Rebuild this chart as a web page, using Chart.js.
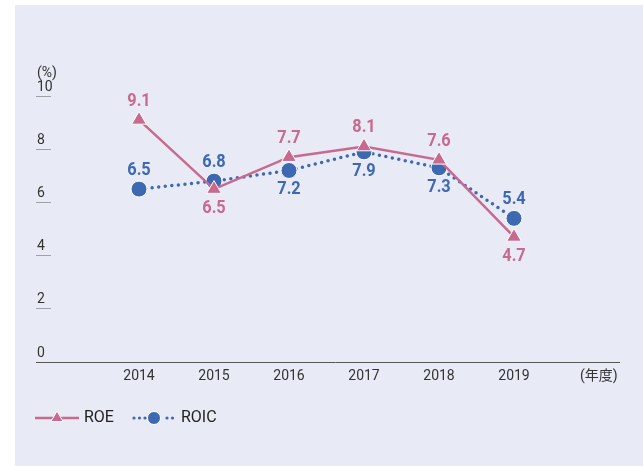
<!DOCTYPE html>
<html>
<head>
<meta charset="utf-8">
<script src="https://cdn.jsdelivr.net/npm/chart.js@4/dist/chart.umd.min.js"></script>
<style>
  html, body { margin: 0; padding: 0; background: #ffffff; }
  #panel { position: absolute; left: 15px; top: 5px; width: 628px; height: 461px; background: #e8eaf6; }
  #wrap { position: absolute; left: 0; top: 0; width: 643px; height: 468px; }
</style>
</head>
<body>
<div id="panel"></div>
<div id="wrap"><canvas id="c" width="643" height="468"></canvas></div>
<script>
// ---- data ----
const categories = ['2014', '2015', '2016', '2017', '2018', '2019'];
const xUnitLabel = '(年度)';
const yUnitLabel = '(%)';
const roeValues = [9.1, 6.5, 7.7, 8.1, 7.6, 4.7];
const roicValues = [6.5, 6.8, 7.2, 7.9, 7.3, 5.4];
const roeLabelSide = ['above', 'below', 'above', 'above', 'above', 'below'];
const roicLabelSide = ['above', 'above', 'below', 'below', 'below', 'above'];
const seriesNames = ['ROE', 'ROIC'];

const ROE_COLOR = '#c8698f';
const ROIC_COLOR = '#3d69b2';
const TEXT_FONT = 'Roboto, "Noto Sans CJK JP", sans-serif';

function makeIcon(kind) {
  const cv = document.createElement('canvas');
  cv.width = 44; cv.height = 16;
  const g = cv.getContext('2d');
  const cy = 8;
  if (kind === 'roe') {
    g.strokeStyle = ROE_COLOR; g.lineWidth = 2.5;
    g.beginPath(); g.moveTo(0, cy); g.lineTo(44, cy); g.stroke();
    const r = 7;
    g.beginPath();
    g.moveTo(22, cy - r);
    g.lineTo(22 + r * Math.sin(Math.PI * 2 / 3), cy - r * Math.cos(Math.PI * 2 / 3));
    g.lineTo(22 + r * Math.sin(Math.PI * 4 / 3), cy - r * Math.cos(Math.PI * 4 / 3));
    g.closePath();
    g.fillStyle = ROE_COLOR; g.fill();
    g.strokeStyle = '#ffffff'; g.lineWidth = 1; g.stroke();
  } else {
    g.fillStyle = ROIC_COLOR;
    for (let x = 2; x <= 42; x += 5.5) {
      if (Math.abs(x - 22) < 8) continue;
      g.beginPath(); g.arc(x, cy, 1.6, 0, Math.PI * 2); g.fill();
    }
    g.beginPath(); g.arc(22, cy, 6.5, 0, Math.PI * 2);
    g.fillStyle = ROIC_COLOR; g.fill();
    g.strokeStyle = '#ffffff'; g.lineWidth = 1; g.stroke();
  }
  return cv;
}
const icons = [makeIcon('roe'), makeIcon('roic')];

const valueLabelPlugin = {
  id: 'valueLabels',
  afterDatasetsDraw(chart) {
    const ctx = chart.ctx;
    chart.data.datasets.forEach((ds, di) => {
      const meta = chart.getDatasetMeta(di);
      meta.data.forEach((pt, i) => {
        const v = ds.data[i].y;
        const side = ds.labelSide[i];
        ctx.save();
        ctx.translate(pt.x, pt.y + (side === 'above' ? -19 : 19));
        ctx.scale(0.86, 1);
        ctx.font = 'bold 19px Roboto, sans-serif';
        ctx.textAlign = 'center';
        ctx.textBaseline = 'middle';
        ctx.fillStyle = ds.borderColor;
        ctx.fillText(v.toFixed(1), 0, 0);
        ctx.restore();
      });
    });
  }
};

new Chart(document.getElementById('c'), {
  type: 'line',
  data: {
    datasets: [
      {
        label: seriesNames[0],
        xAxisID: 'x',
        yAxisID: 'y',
        data: roeValues.map((v, i) => ({ x: i, y: v })),
        labelSide: roeLabelSide,
        borderColor: ROE_COLOR,
        backgroundColor: ROE_COLOR,
        borderWidth: 2.5,
        tension: 0,
        pointStyle: 'triangle',
        pointRadius: 8.5,
        pointHoverRadius: 8.5,
        pointBorderColor: '#ffffff',
        pointBorderWidth: 1,
        pointBackgroundColor: ROE_COLOR
      },
      {
        label: seriesNames[1],
        xAxisID: 'x',
        yAxisID: 'y',
        data: roicValues.map((v, i) => ({ x: i, y: v })),
        labelSide: roicLabelSide,
        borderColor: ROIC_COLOR,
        backgroundColor: ROIC_COLOR,
        borderWidth: 3.5,
        borderDash: [0, 6.6],
        borderCapStyle: 'round',
        tension: 0,
        pointStyle: 'circle',
        pointRadius: 8,
        pointHoverRadius: 8,
        pointBorderColor: '#ffffff',
        pointBorderWidth: 1,
        pointBackgroundColor: ROIC_COLOR
      }
    ]
  },
  options: {
    responsive: false,
    animation: false,
    events: [],
    layout: { padding: { left: 17, right: 24, top: 96, bottom: 32 } },
    scales: {
      x: {
        type: 'linear',
        min: -1.1733,
        max: 6.4,
        afterBuildTicks: s => {
          s.ticks = categories.map((c, i) => ({ value: i })).concat([{ value: 6.13 }]);
        },
        afterFit: s => { s.height = 27; },
        grid: { display: false, drawTicks: false, tickLength: 0 },
        border: { display: true, color: '#555555', width: 1 },
        ticks: {
          autoSkip: false,
          maxRotation: 0,
          padding: 6,
          color: '#333333',
          font: { family: TEXT_FONT, size: 14 },
          callback: (v, i) => (i < categories.length ? categories[i] : xUnitLabel)
        }
      },
      y: {
        type: 'linear',
        position: 'left',
        min: 0,
        max: 10,
        afterFit: s => { s.width = 34; },
        border: { display: false },
        grid: {
          drawOnChartArea: false,
          drawTicks: true,
          tickLength: 15,
          lineWidth: 1,
          color: c => (c.tick && c.tick.value === 0 ? '#555555' : '#a0a0a8')
        },
        ticks: {
          stepSize: 2,
          mirror: true,
          crossAlign: 'near',
          padding: -14,
          labelOffset: -16,
          color: '#333333',
          font: { family: TEXT_FONT, size: 14, lineHeight: '14px' },
          callback: v => (v === 10 ? [yUnitLabel, String(v)] : ['', String(v)])
        }
      }
    },
    plugins: {
      title: { display: false },
      tooltip: { enabled: false },
      legend: {
        display: true,
        position: 'bottom',
        align: 'start',
        labels: {
          usePointStyle: true,
          pointStyleWidth: 38,
          padding: 21,
          color: '#222222',
          font: { family: TEXT_FONT, size: 16 },
          generateLabels: chart => chart.data.datasets.map((ds, i) => ({
            text: ds.label,
            pointStyle: icons[i],
            fillStyle: ds.borderColor,
            strokeStyle: ds.borderColor,
            lineWidth: 0,
            hidden: false,
            datasetIndex: i,
            fontColor: '#222222'
          }))
        }
      }
    }
  },
  plugins: [valueLabelPlugin]
});
</script>
</body>
</html>
